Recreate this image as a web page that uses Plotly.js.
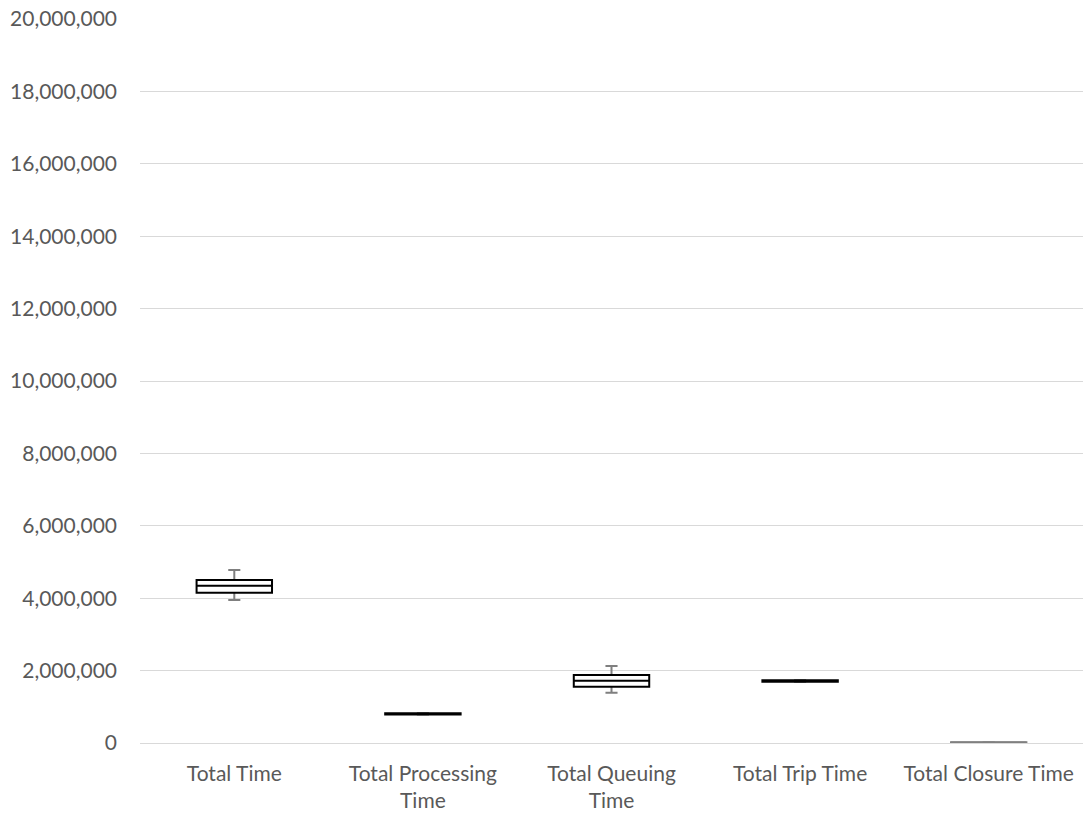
<!DOCTYPE html>
<html>
<head>
<meta charset="utf-8">
<script src="https://cdn.plot.ly/plotly-3.0.1.min.js"></script>
<style>html,body{margin:0;padding:0;background:#fff;}#chart{width:1086px;height:820px;}</style>
</head>
<body>
<div id="chart"></div>
<script>
var categories = ["Total Time", "Total Processing<br>Time", "Total Queuing<br>Time", "Total Trip Time", "Total Closure Time"];
var lowerWhisker = [3950000, 785000, 1390000, 1690000, 5000];
var q1Values     = [4150000, 790000, 1555000, 1695000, 8000];
var medianValues = [4345000, 800000, 1720000, 1710000, 12000];
var q3Values     = [4500000, 820000, 1880000, 1730000, 18000];
var upperWhisker = [4780000, 825000, 2130000, 1735000, 22000];
var yTickValues = [0, 2000000, 4000000, 6000000, 8000000, 10000000, 12000000, 14000000, 16000000, 18000000, 20000000];

var boxColors = ["#000000", "#000000", "#000000", "#000000", "#808080"];

var whiskerTrace = {
  type: "box",
  x: categories,
  q1: medianValues,
  median: medianValues,
  q3: medianValues,
  lowerfence: lowerWhisker,
  upperfence: upperWhisker,
  width: 0.4,
  whiskerwidth: 0.16,
  line: {color: "#7f7f7f", width: 2},
  fillcolor: "rgba(0,0,0,0)",
  hoverinfo: "skip",
  showlegend: false
};

var boxTraces = categories.map(function (c, i) {
  return {
    type: "box",
    x: [c],
    q1: [q1Values[i]],
    median: [medianValues[i]],
    q3: [q3Values[i]],
    lowerfence: [q1Values[i]],
    upperfence: [q3Values[i]],
    width: 0.4,
    whiskerwidth: 0,
    line: {color: boxColors[i], width: 2},
    fillcolor: "#ffffff",
    showlegend: false
  };
});

var layout = {
  width: 1086,
  height: 820,
  margin: {l: 140, r: 3, t: 19, b: 77},
  paper_bgcolor: "#ffffff",
  plot_bgcolor: "#ffffff",
  boxmode: "overlay",
  showlegend: false,
  font: {family: "Lato, 'Open Sans', sans-serif", size: 21, color: "#595959"},
  xaxis: {
    type: "category",
    categoryorder: "array",
    categoryarray: categories,
    range: [-0.5, 4.5],
    showgrid: false,
    showline: false,
    zeroline: false,
    ticks: "",
    ticklabelstandoff: 16,
    tickfont: {size: 21, color: "#595959"}
  },
  yaxis: {
    range: [0, 20000000],
    tickvals: yTickValues,
    tickformat: ",d",
    showgrid: true,
    gridcolor: "#d9d9d9",
    gridwidth: 1,
    zeroline: true,
    zerolinecolor: "#d9d9d9",
    zerolinewidth: 1,
    showline: false,
    ticks: "",
    ticklabelstandoff: 22,
    tickfont: {size: 21, color: "#595959"}
  }
};

Plotly.newPlot("chart", [whiskerTrace].concat(boxTraces), layout, {displayModeBar: false, staticPlot: true});
</script>
</body>
</html>
